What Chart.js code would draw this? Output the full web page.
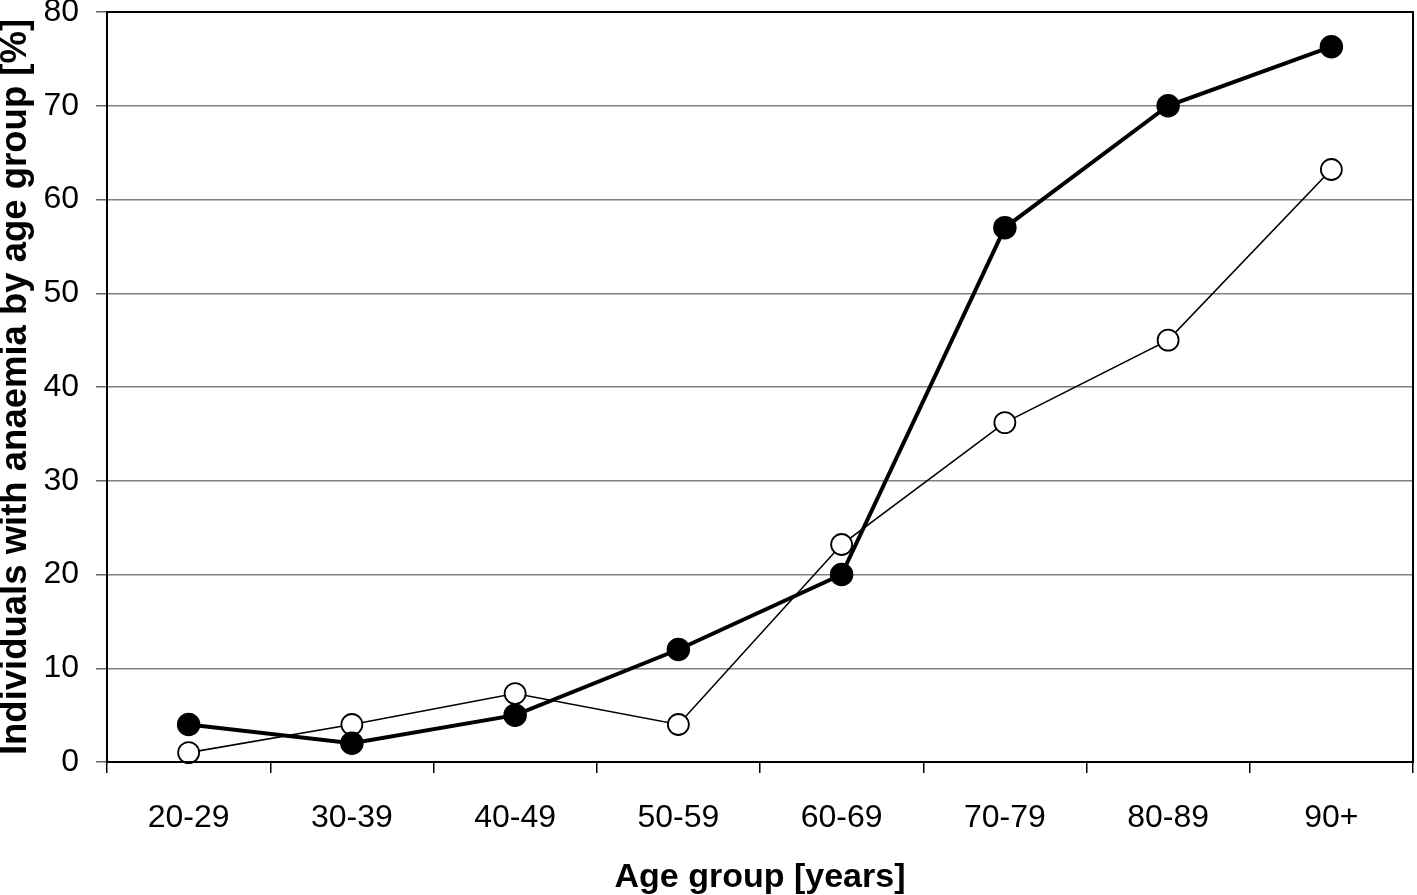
<!DOCTYPE html>
<html>
<head>
<meta charset="utf-8">
<script src="https://cdn.jsdelivr.net/npm/chart.js@4/dist/chart.umd.min.js"></script>
<style>
  html, body { margin: 0; padding: 0; background: #ffffff; overflow: hidden; }
  #wrap { width: 1417px; height: 895px; }
  canvas { display: block; }
</style>
</head>
<body>
<div id="wrap"><canvas id="c" width="1417" height="895"></canvas></div>
<script>
const categories = ['20-29', '30-39', '40-49', '50-59', '60-69', '70-79', '80-89', '90+'];
const filledSeries = [4, 2, 5, 12, 20, 57, 70, 76.3];
const openSeries = [1, 4, 7.3, 4, 23.2, 36.2, 45, 63.2];
const yTicks = [0, 10, 20, 30, 40, 50, 60, 70, 80];
const xTitle = 'Age group [years]';
const yTitle = 'Individuals with anaemia by age group [%]';

const FONT = "'Liberation Sans', Arial, 'DejaVu Sans', sans-serif";

const borderPlugin = {
  id: 'plotBorder',
  afterDraw(chart) {
    const { ctx, chartArea: a } = chart;
    ctx.save();
    ctx.strokeStyle = '#000';
    ctx.lineWidth = 2;
    ctx.strokeRect(a.left, a.top, a.right - a.left, a.bottom - a.top);
    ctx.restore();
  }
};

new Chart(document.getElementById('c'), {
  type: 'line',
  data: {
    labels: categories,
    datasets: [
      {
        label: 'Filled markers',
        data: filledSeries,
        borderColor: '#000',
        backgroundColor: '#000',
        borderWidth: 4,
        pointRadius: 11,
        pointBorderWidth: 1.5,
        pointBorderColor: '#000',
        pointBackgroundColor: '#000',
        tension: 0,
        clip: false
      },
      {
        label: 'Open markers',
        data: openSeries,
        borderColor: '#000',
        backgroundColor: '#fff',
        borderWidth: 1.6,
        pointRadius: 10.5,
        pointBorderWidth: 1.8,
        pointBorderColor: '#000',
        pointBackgroundColor: '#fff',
        tension: 0,
        clip: false
      }
    ]
  },
  options: {
    responsive: false,
    animation: false,
    devicePixelRatio: 1,
    layout: { autoPadding: false, padding: { left: 0, top: 12, right: 4, bottom: 0 } },
    plugins: {
      legend: { display: false },
      tooltip: { enabled: false },
      title: { display: false }
    },
    scales: {
      x: {
        type: 'category',
        offset: true,
        grid: {
          offset: true,
          drawOnChartArea: false,
          drawTicks: true,
          tickLength: 11,
          color: '#000',
          lineWidth: 1.5
        },
        border: { display: false },
        ticks: {
          color: '#000',
          font: { family: FONT, size: 32 },
          padding: 26,
          maxRotation: 0,
          autoSkip: false
        },
        title: {
          display: true,
          text: xTitle,
          color: '#000',
          font: { family: FONT, size: 34, weight: 'bold', lineHeight: 1 },
          padding: { top: 0, bottom: 0 }
        },
        afterFit(s) { s.height = 133; s.paddingLeft = 0; s.paddingRight = 0; }
      },
      y: {
        min: 0,
        max: 80,
        afterBuildTicks(s) { s.ticks = yTicks.map(v => ({ value: v })); },
        grid: {
          color: '#808080',
          lineWidth: 1.5,
          drawTicks: true,
          tickLength: 11,
          tickColor: '#666'
        },
        border: { display: false },
        ticks: {
          color: '#000',
          font: { family: FONT, size: 32 },
          padding: 17
        },
        title: {
          display: true,
          text: yTitle,
          color: '#000',
          font: { family: FONT, size: 36.5, weight: 'bold', lineHeight: 0.85 },
          padding: { top: 0.5, bottom: 0 }
        },
        afterFit(s) { s.width = 107; s.paddingTop = 0; s.paddingBottom = 0; }
      }
    }
  },
  plugins: [borderPlugin]
});
</script>
</body>
</html>
